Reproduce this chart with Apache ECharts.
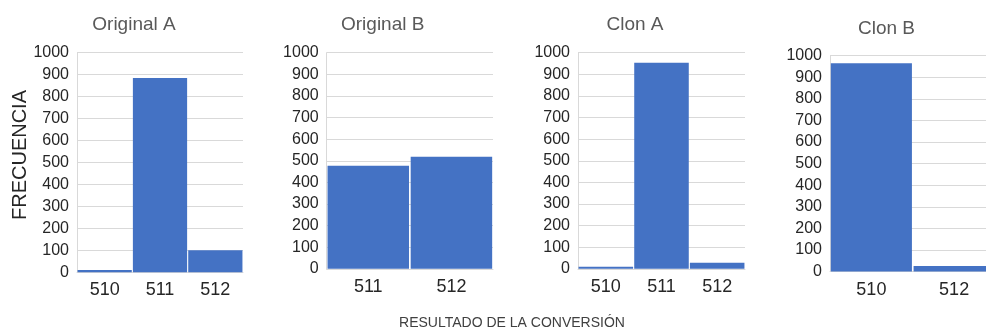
<!DOCTYPE html>
<html>
<head>
<meta charset="utf-8">
<script src="https://cdn.jsdelivr.net/npm/echarts@6/dist/echarts.min.js"></script>
<style>
html,body{margin:0;padding:0;background:#fff;}
#c{width:986px;height:329px;}
</style>
</head>
<body>
<div id="c"></div>
<script>
// Panel titles
var panelTitles = ['Original A', 'Original B', 'Clon A', 'Clon B'];
// Categories per panel
var catOrigA = ['510', '511', '512'];
var catOrigB = ['511', '512'];
var catClonA = ['510', '511', '512'];
var catClonB = ['510', '512'];
// Frequencies per panel
var valOrigA = [10, 885, 100];
var valOrigB = [477, 519];
var valClonA = [9, 954, 28];
var valClonB = [965, 26];
// Y axis ticks
var yMin = 0, yMax = 1000, yStep = 100;
var yName = 'FRECUENCIA';
var xName = 'RESULTADO DE LA CONVERSIÓN';

var FONT = 'Liberation Sans, Arial, sans-serif';
var BAR = '#4472C4';
var GRID = '#d9d9d9';

var grids = [
  {left: 77, top: 52.7, width: 166, height: 219.6},
  {left: 326.7, top: 52.7, width: 166.3, height: 216.1},
  {left: 578, top: 52.7, width: 167, height: 216.1},
  {left: 830, top: 55.7, width: 165.5, height: 215.9}
];
var cats = [catOrigA, catOrigB, catClonA, catClonB];
var vals = [valOrigA, valOrigB, valClonA, valClonB];
var titlePos = [[134, 25], [382.7, 25], [635, 25], [886.5, 29]];

var option = {
  animation: false,
  backgroundColor: '#fff',
  grid: grids.map(function (g) { return Object.assign({containLabel: false, outerBoundsMode: 'none'}, g); }),
  xAxis: cats.map(function (c, i) {
    return {
      type: 'category', gridIndex: i, data: c,
      axisLine: {show: true, lineStyle: {color: GRID, width: 1}},
      axisTick: {show: false},
      axisLabel: {color: '#262626', fontSize: 18, fontFamily: FONT, margin: 9}
    };
  }),
  yAxis: cats.map(function (c, i) {
    return {
      type: 'value', gridIndex: i, min: yMin, max: yMax, interval: yStep,
      axisLine: {show: true, lineStyle: {color: GRID, width: 1}},
      axisTick: {show: false},
      splitLine: {show: true, lineStyle: {color: GRID, width: 1}},
      axisLabel: {color: '#262626', fontSize: 16, fontFamily: FONT, margin: 8,
        formatter: function (v) { return String(v); }}
    };
  }),
  series: vals.map(function (v, i) {
    return {
      type: 'bar', xAxisIndex: i, yAxisIndex: i, data: v,
      barCategoryGap: '2%',
      itemStyle: {color: BAR}
    };
  }),
  graphic: panelTitles.map(function (t, i) {
    return {
      type: 'text', x: titlePos[i][0], y: titlePos[i][1],
      style: {text: t, fill: '#595959', font: '19px ' + FONT, align: 'center', verticalAlign: 'middle'}
    };
  }).concat([
    {
      type: 'text', x: 20, y: 155, rotation: Math.PI / 2,
      style: {text: yName, fill: '#262626', font: '20px ' + FONT, align: 'center', verticalAlign: 'middle'}
    },
    {
      type: 'text', x: 512, y: 323,
      style: {text: xName, fill: '#404040', font: '14px ' + FONT, align: 'center', verticalAlign: 'middle'}
    }
  ])
};

var chart = echarts.init(document.getElementById('c'), null, {renderer: 'canvas'});
chart.setOption(option);
</script>
</body>
</html>
